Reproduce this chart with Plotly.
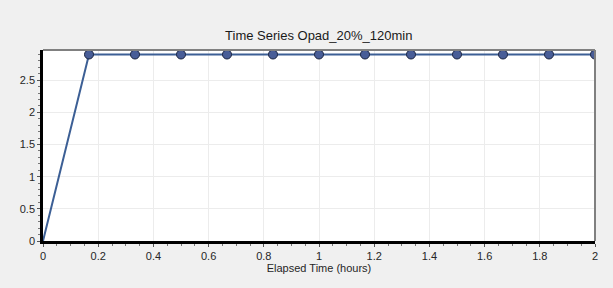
import plotly.graph_objects as go

hours = [0, 1/6, 2/6, 3/6, 4/6, 5/6, 1.0, 7/6, 8/6, 9/6, 10/6, 11/6, 2.0]
values = [0, 2.9, 2.9, 2.9, 2.9, 2.9, 2.9, 2.9, 2.9, 2.9, 2.9, 2.9, 2.9]
marker_sizes = [0] + [9] * (len(hours) - 1)

fig = go.Figure()
fig.add_trace(go.Scatter(
    x=hours, y=values, mode="lines+markers",
    line=dict(color="#3c5f95", width=2),
    marker=dict(size=marker_sizes, color="#485d97", opacity=1, line=dict(color="#1a2440", width=1)),
    cliponaxis=True, showlegend=False,
))

fig.add_shape(type="line", xref="paper", yref="paper", x0=0, x1=1, y0=1, y1=1,
              line=dict(color="#808080", width=2), layer="above")
fig.add_shape(type="line", xref="paper", yref="paper", x0=1, x1=1, y0=0, y1=1,
              line=dict(color="#808080", width=2), layer="above")

fig.update_layout(
    width=613, height=288,
    margin=dict(l=43, r=18, t=50, b=47),
    paper_bgcolor="#f0f0f0", plot_bgcolor="#ffffff",
    font=dict(family="Arial, Liberation Sans, sans-serif", size=11, color="#262626"),
    title=dict(text="Time Series Opad_20%_120min", x=0.52, xanchor="center", y=0.878, yanchor="middle",
               font=dict(size=13, color="#1a1a1a")),
    xaxis=dict(range=[0, 2], tickvals=[0, 0.2, 0.4, 0.6, 0.8, 1, 1.2, 1.4, 1.6, 1.8, 2],
               ticktext=["0", "0.2", "0.4", "0.6", "0.8", "1", "1.2", "1.4", "1.6", "1.8", "2"],
               showgrid=True, gridcolor="#ececec", gridwidth=1, zeroline=False,
               showline=True, linecolor="#000000", linewidth=2.5,
               ticks="outside", ticklen=3, tickcolor="#555555",
               minor=dict(dtick=0.05, ticks="outside", ticklen=2, tickcolor="#777777", showgrid=False),
               title=dict(text="Elapsed Time (hours)", standoff=4, font=dict(size=11))),
    yaxis=dict(range=[0, 2.97], tickvals=[0, 0.5, 1, 1.5, 2, 2.5],
               ticktext=["0", "0.5", "1", "1.5", "2", "2.5"],
               showgrid=True, gridcolor="#ececec", gridwidth=1, zeroline=False,
               showline=True, linecolor="#000000", linewidth=2.5,
               ticks="outside", ticklen=3, tickcolor="#555555",
               minor=dict(dtick=0.1, ticks="outside", ticklen=2, tickcolor="#777777", showgrid=False)),
)

fig.write_html("out.html")
